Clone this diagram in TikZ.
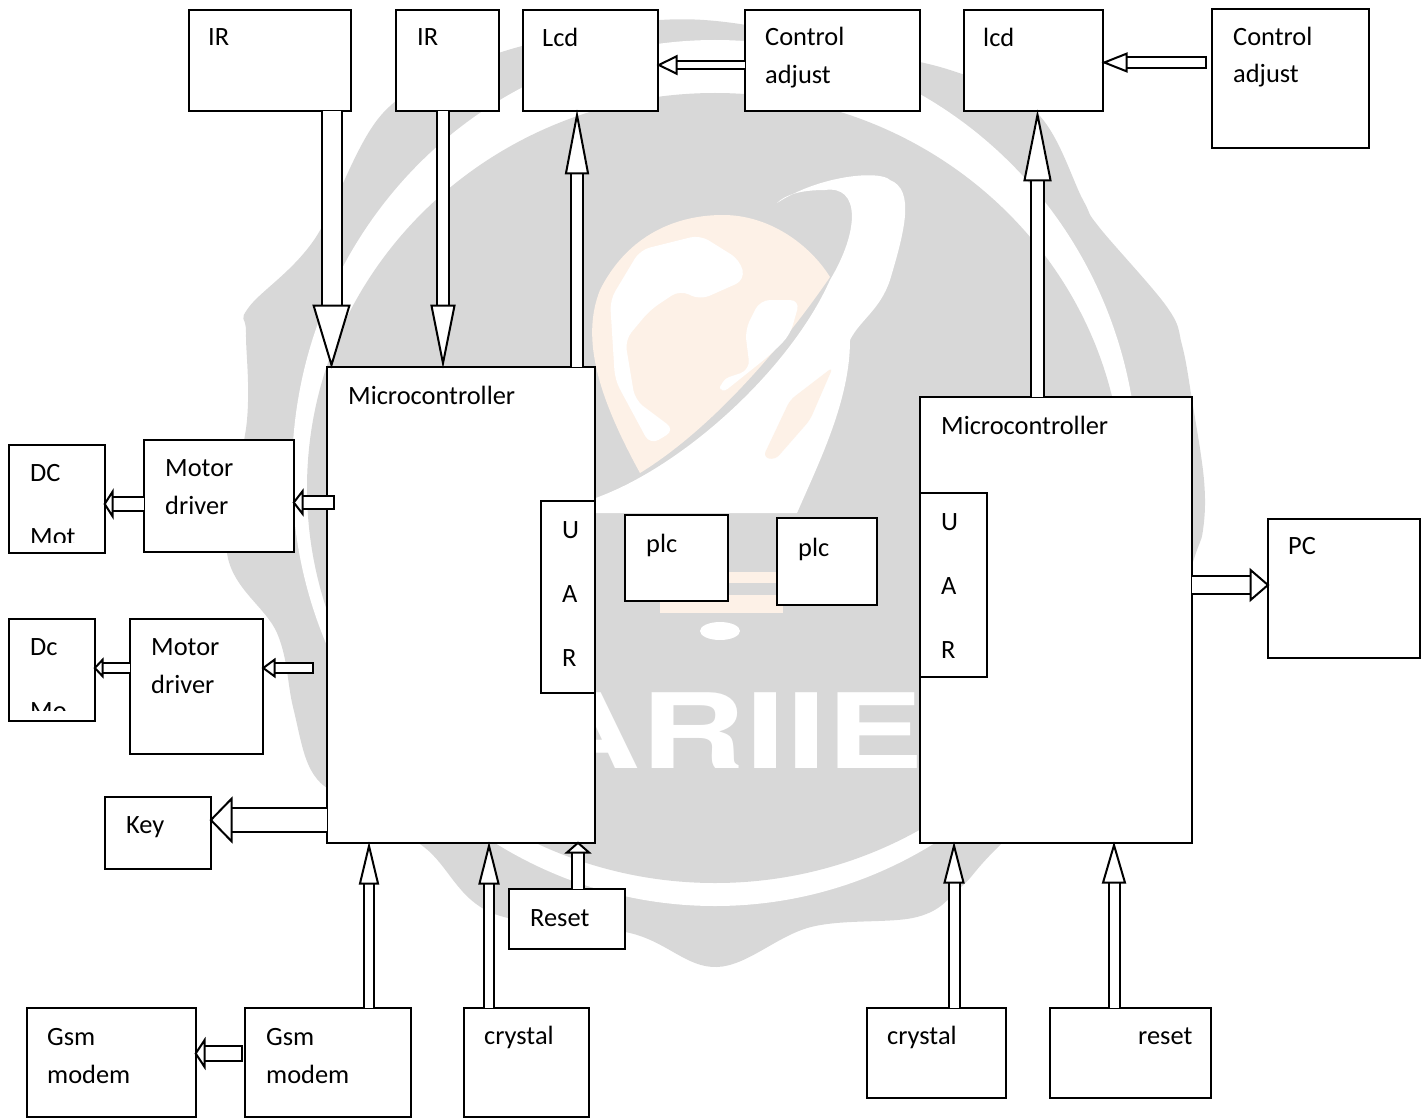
\documentclass[tikz,border=0pt]{standalone}
\usepackage{fontspec}
\setmainfont{Carlito}
\newfontfamily\markfont{TeX Gyre Heros}
\usepackage{xcolor}
\usetikzlibrary{arrows.meta}
\definecolor{markgray}{HTML}{D8D8D8}
\definecolor{markorange}{HTML}{FDF1E7}

\begin{document}
\begin{tikzpicture}[
x=1pt, y=-1pt,
font=\fontsize{26.4}{37.5}\selectfont,
block/.style={draw, line width=2pt, fill=white, anchor=north west, inner sep=0pt, outer sep=0pt},
caption/.style={anchor=north west, inner sep=0pt, align=left, yshift=-3.5pt},
blockarrow/.style n args={3}{line width=2pt, double=white, double distance=#1pt, shorten >=-1.5pt,
  -{Triangle[fill=white, line width=2pt, length=#2pt, width=#3pt]}},
blocktail/.style n args={4}{line width=2pt, double=white, double distance=#1pt, shorten >=-1.5pt,
  {Bar[line width=2pt, width=#4pt]}-{Triangle[fill=white, line width=2pt, length=#2pt, width=#3pt]}}
]
\useasboundingbox (0,0) rectangle (1426,1118);

% watermark
\fill[markgray] plot[smooth cycle, tension=.6] coordinates {(660,20) (740,24) (830,45) (950,70) (1037,113)
  (1083,200) (1099,227) (1167,307) (1182,345) (1192,400) (1204,480) (1203,530) (1192,565) (1150,700)
  (1002,843) (961,887) (917,917) (811,927) (717,967) (630,933) (492,913) (424,847) (345,800) (311,770)
  (293,707) (277,633) (227,553) (247,420) (246,333) (249,307) (314,240) (383,113) (480,60) (570,35)};
\fill[white] (715,473) ellipse [x radius=423, y radius=433];
\fill[markgray] (715,488) ellipse [x radius=408, y radius=395];
\fill[markorange] (640,473) .. controls (600,400) and (580,340) .. (600,290)
  .. controls (625,240) and (670,215) .. (723,215) .. controls (770,215) and (810,245) .. (830,277)
  .. controls (780,350) and (710,430) .. (640,473) -- cycle;
\fill[white, rounded corners=10pt] (610,300) -- (640,250) -- (700,235) -- (740,260) -- (745,280) -- (700,300) -- (680,290)
  -- (650,310) -- (625,340) -- (635,400) -- (675,430) -- (650,445) -- (615,380) -- cycle;
\fill[white, rounded corners=10pt] (720,395) -- (770,355) -- (790,335) -- (800,300) -- (760,300) -- (745,330) -- (750,370) -- (720,380) -- cycle;
\fill[white] (777,203) .. controls (820,175) and (880,170) .. (890,180)
  .. controls (915,190) and (905,230) .. (890,280) .. controls (880,310) and (860,320) .. (850,340)
  .. controls (850,400) and (820,460) .. (797,513) -- (590,513) -- (590,500)
  .. controls (680,470) and (790,370) .. (830,280) .. controls (860,230) and (860,185) .. (825,190)
  .. controls (800,190) and (785,195) .. (777,203) -- cycle;
\fill[markorange, rounded corners=6pt] (763,457) -- (790,400) -- (833,367) -- (810,420) -- (775,460) -- cycle;
\fill[markorange] (660,572) rectangle (783,583);
\fill[markorange] (660,595) rectangle (783,613);
\fill[white] (720,631) ellipse [x radius=20, y radius=9];
\node[text=white, xscale=1.4, inner sep=0pt, anchor=base west, font=\markfont\bfseries\fontsize{104}{104}\selectfont] (markname) at (535,768) {ARIIE};

\node[block, minimum width=162, minimum height=101] (irA) at (189,10) {};
\node[block, minimum width=103, minimum height=101] (irB) at (396,10) {};
\node[block, minimum width=135, minimum height=101] (lcdA) at (523,10) {};
\node[block, minimum width=175, minimum height=101] (ctrlA) at (745,10) {};
\node[block, minimum width=139, minimum height=101] (lcdB) at (964,10) {};
\node[block, minimum width=157, minimum height=139] (ctrlB) at (1212,9) {};
\node[block, minimum width=268, minimum height=476] (mcuA) at (327,367) {};
\node[block, minimum width=272, minimum height=446] (mcuB) at (920,397) {};
\node[block, minimum width=96, minimum height=108] (dcA) at (9,445) {};
\node[block, minimum width=150, minimum height=112] (driverA) at (144,440) {};
\node[block, minimum width=86, minimum height=102] (dcB) at (9,619) {};
\node[block, minimum width=133, minimum height=135] (driverB) at (130,619) {};
\node[block, minimum width=54, minimum height=192] (uartA) at (541,501) {};
\node[block, minimum width=67, minimum height=184] (uartB) at (920,493) {};
\node[block, minimum width=103, minimum height=86] (plcA) at (625,515) {};
\node[block, minimum width=100, minimum height=87] (plcB) at (777,518) {};
\node[block, minimum width=152, minimum height=139] (pc) at (1268,519) {};
\node[block, minimum width=106, minimum height=72] (key) at (105,797) {};
\node[block, minimum width=116, minimum height=60] (resetA) at (509,889) {};
\node[block, minimum width=169, minimum height=109] (gsmA) at (27,1008) {};
\node[block, minimum width=166, minimum height=109] (gsmB) at (245,1008) {};
\node[block, minimum width=125, minimum height=109] (crystalA) at (464,1008) {};
\node[block, minimum width=139, minimum height=90] (crystalB) at (867,1008) {};
\node[block, minimum width=161, minimum height=90] (resetB) at (1050,1008) {};

\node[caption] (irAtext) at (208,25) {IR};
\node[caption] (irBtext) at (417,25) {IR};
\node[caption] (lcdAtext) at (542,24) {Lcd};
\node[caption] (ctrlAtext) at (765,23.5) {Control\\adjust};
\node[caption] (lcdBtext) at (983,24) {lcd};
\node[caption] (ctrlBtext) at (1233,23) {Control\\adjust};
\node[caption] (mcuAtext) at (348,382) {Microcontroller};
\node[caption] (mcuBtext) at (941,412) {Microcontroller};
\node[caption] (driverAtext) at (165,456) {Motor\\driver};
\node[caption] (driverBtext) at (151,635) {Motor\\driver};
\node[caption] (uartAtext) at (562,518) {U\\[26.5pt]A\\[26.5pt]R};
\node[caption] (uartBtext) at (941,509.5) {U\\[26.5pt]A\\[26.5pt]R};
\node[caption] (plcAtext) at (646,530) {plc};
\node[caption] (plcBtext) at (798,534) {plc};
\node[caption] (pctext) at (1288,534) {PC};
\node[caption] (keytext) at (126,813) {Key};
\node[caption] (resetAtext) at (530,906) {Reset};
\node[caption] (gsmAtext) at (47,1025) {Gsm\\modem};
\node[caption] (gsmBtext) at (266,1025) {Gsm\\modem};
\node[caption] (crystalAtext) at (484,1022) {crystal};
\node[caption] (crystalBtext) at (887,1022) {crystal};
\node[caption] (resetBtext) at (1138,1024) {reset};
\begin{scope}
\clip (dcA.north west) rectangle ([yshift=11]dcA.south east);
\node[caption] (dcAtext) at (30,461) {DC\\[26.5pt]Mot};
\end{scope}
\begin{scope}
\clip (dcB.north west) rectangle ([yshift=11]dcB.south east);
\node[caption] (dcBtext) at (30,635) {Dc\\[26.5pt]Mo};
\end{scope}

\draw[blockarrow={18}{64}{38}] ([xshift=61.5]irA.south) -- ([xshift=61.5]irA.south |- mcuA.north);
\draw[blockarrow={10}{64}{25}] ([xshift=-4.5]irB.south) -- ([xshift=-4.5]irB.south |- mcuA.north);
\draw[blockarrow={10}{65}{24}] ([xshift=-13.5]lcdA.south |- mcuA.north) -- ([xshift=-13.5]lcdA.south);
\draw[blockarrow={11}{72}{28}] ([xshift=4]lcdB.south |- mcuB.north) -- ([xshift=4]lcdB.south);
\draw[blockarrow={6}{21}{20}] ([yshift=-4.5]ctrlA.west) -- ([yshift=-4.5]ctrlA.west -| lcdA.east);
\draw[blocktail={9}{26}{20}{13}] ([xshift=-5,yshift=16]ctrlB.west) -- ([yshift=16]ctrlB.west -| lcdB.east);
\draw[blocktail={11}{11}{28}{15}] ([xshift=8,yshift=-6.5]driverA.east -| mcuA.west) -- ([yshift=-6.5]driverA.east);
\draw[blockarrow={12}{10}{31}] ([yshift=-8]driverA.west) -- ([yshift=-8]driverA.west -| dcA.east);
\draw[blocktail={8}{14}{20}{12}] ([xshift=51,yshift=18.5]driverB.east) -- ([yshift=18.5]driverB.east);
\draw[blockarrow={8}{10}{21}] ([yshift=18.5]driverB.west) -- ([yshift=18.5]driverB.west -| dcB.east);
\draw[blockarrow={22}{23}{47}] ([yshift=13]key.east -| mcuA.west) -- ([yshift=13]key.east);
\draw[blockarrow={15.5}{20}{34}] ([yshift=3.5]pc.west -| mcuB.east) -- ([yshift=3.5]pc.west);
\draw[blockarrow={8}{43}{20}] ([xshift=41]gsmB.north) -- ([xshift=41]gsmB.north |- mcuA.south);
\draw[blockarrow={8}{43}{21}] ([xshift=-37.5]crystalA.north) -- ([xshift=-37.5]crystalA.north |- mcuA.south);
\draw[blockarrow={10}{12}{27}] ([xshift=11]resetA.north) -- ([xshift=11]resetA.north |- mcuA.south);
\draw[blockarrow={9}{42}{21}] ([xshift=17.5]crystalB.north) -- ([xshift=17.5]crystalB.north |- mcuB.south);
\draw[blockarrow={9}{42}{24}] ([xshift=-16.5]resetB.north) -- ([xshift=-16.5]resetB.north |- mcuB.south);
\draw[blocktail={13}{11}{33}{17}] ([xshift=-2,yshift=9]gsmB.west) -- ([yshift=9]gsmA.east);
\end{tikzpicture}
\end{document}
